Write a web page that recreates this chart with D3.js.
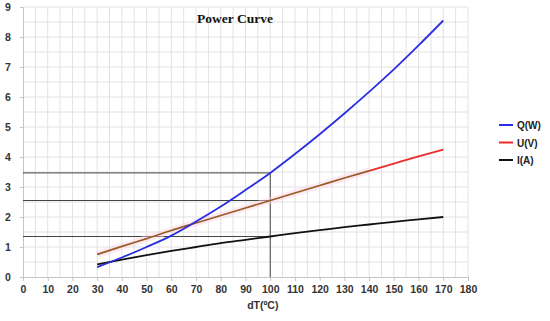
<!DOCTYPE html>
<html>
<head>
<meta charset="utf-8">
<script src="https://cdn.jsdelivr.net/npm/d3@7"></script>
<style>
  body { margin: 0; background: #fff; }
  svg text { font-family: Arial, "Liberation Sans", sans-serif; }
</style>
</head>
<body>
<div id="chart"></div>
<script>
// data
const dT = [30, 40, 50, 60, 70, 80, 90, 100, 110, 120, 130, 140, 150, 160, 170];
const qW = [0.33, 0.65, 1.0, 1.38, 1.85, 2.35, 2.9, 3.47, 4.1, 4.76, 5.45, 6.17, 6.92, 7.72, 8.55];
const uV = [0.75, 1.02, 1.28, 1.55, 1.8, 2.05, 2.3, 2.55, 2.8, 3.05, 3.3, 3.54, 3.78, 4.02, 4.25];
const iA = [0.42, 0.58, 0.73, 0.87, 1.0, 1.13, 1.24, 1.35, 1.46, 1.56, 1.66, 1.75, 1.84, 1.92, 2.0];
const xTicks = d3.range(0, 181, 10);
const yTicks = d3.range(0, 10, 1);
const markX = 100;
const markY = [3.47, 2.55, 1.35];

const width = 550, height = 321;
const margin = { top: 7, right: 82, bottom: 44, left: 23 };

const svg = d3.select("#chart").append("svg")
  .attr("width", width).attr("height", height);

const x = d3.scaleLinear().domain([0, 180]).range([margin.left, width - margin.right]);
const y = d3.scaleLinear().domain([0, 9]).range([height - margin.bottom, margin.top]);

// grid, every 5 / 0.5
const grid = svg.append("g").attr("stroke", "#e2e2e2").attr("stroke-width", 1);
grid.selectAll(".gx").data(d3.range(5, 181, 5)).join("line")
  .attr("x1", d => x(d)).attr("x2", d => x(d))
  .attr("y1", y(0)).attr("y2", y(9));
grid.selectAll(".gy").data(d3.range(0.5, 9.01, 0.5)).join("line")
  .attr("x1", x(0)).attr("x2", x(180))
  .attr("y1", d => y(d)).attr("y2", d => y(d));

// axes
const xAxis = svg.append("g")
  .attr("transform", `translate(0,${y(0)})`)
  .call(d3.axisBottom(x).tickValues(xTicks).tickSize(4).tickPadding(5));
const yAxis = svg.append("g")
  .attr("transform", `translate(${x(0)},0)`)
  .call(d3.axisLeft(y).tickValues(yTicks).tickSize(3).tickPadding(8));
[xAxis, yAxis].forEach(a => {
  a.select(".domain").attr("stroke", "#c4c4c4");
  a.selectAll(".tick line").attr("stroke", "#c4c4c4");
  a.selectAll(".tick text").attr("fill", "#333").attr("font-size", 10.5).attr("font-weight", "bold");
});
yAxis.selectAll(".tick text").attr("text-anchor", "middle").attr("x", -15);

// reference lines at dT = 100
const ref = svg.append("g").attr("stroke", "#444").attr("stroke-width", 1);
ref.selectAll("line.h").data(markY).join("line")
  .attr("x1", x(0)).attr("x2", x(markX))
  .attr("y1", d => y(d)).attr("y2", d => y(d));
ref.append("line")
  .attr("x1", x(markX)).attr("x2", x(markX))
  .attr("y1", y(0)).attr("y2", y(d3.max(markY)));

const line = d3.line().x(d => x(d[0])).y(d => y(d[1])).curve(d3.curveMonotoneX);
const pts = vals => dT.map((t, i) => [t, vals[i]]);

// U(V): faint pink halo, brown along most, red at the end
const uPts = pts(uV);
svg.append("path").datum(uPts.filter(d => d[0] <= 140)).attr("d", line)
  .attr("fill", "none").attr("stroke", "#fbd3e2").attr("stroke-width", 7).attr("opacity", 0.45);
svg.append("path").datum(uPts.filter(d => d[0] <= 145)).attr("d", line)
  .attr("fill", "none").attr("stroke", "#9a5a28").attr("stroke-width", 1.8);
svg.append("path").datum(uPts.filter(d => d[0] >= 140)).attr("d", line)
  .attr("fill", "none").attr("stroke", "#ee2a2a").attr("stroke-width", 1.8);

svg.append("path").datum(pts(iA)).attr("d", line)
  .attr("fill", "none").attr("stroke", "#111").attr("stroke-width", 1.8);
svg.append("path").datum(pts(qW)).attr("d", line)
  .attr("fill", "none").attr("stroke", "#2a2ee0").attr("stroke-width", 1.8);

// title and axis label
svg.append("text").attr("x", 235).attr("y", 23)
  .attr("text-anchor", "middle").attr("font-size", 13.5).attr("font-weight", "bold")
  .style("font-family", "'Liberation Serif', 'DejaVu Serif', serif")
  .attr("fill", "#111").text("Power Curve");
svg.append("text").attr("x", x(97)).attr("y", 309)
  .attr("text-anchor", "middle").attr("font-size", 10.5).attr("font-weight", "bold")
  .attr("fill", "#333").text("dT(ºC)");

// legend
const legend = [["Q(W)", "#2a2ee0"], ["U(V)", "#ee2a2a"], ["I(A)", "#111"]];
const lg = svg.append("g").attr("transform", "translate(499,125)");
lg.selectAll("g").data(legend).join("g")
  .attr("transform", (d, i) => `translate(0,${i * 17.5})`)
  .each(function (d) {
    const g = d3.select(this);
    g.append("line").attr("x1", 0).attr("x2", 14).attr("stroke", d[1]).attr("stroke-width", 2);
    g.append("text").attr("x", 18).attr("y", 4).attr("font-size", 10).attr("font-weight", "bold")
      .attr("fill", "#222").text(d[0]);
  });
</script>
</body>
</html>
